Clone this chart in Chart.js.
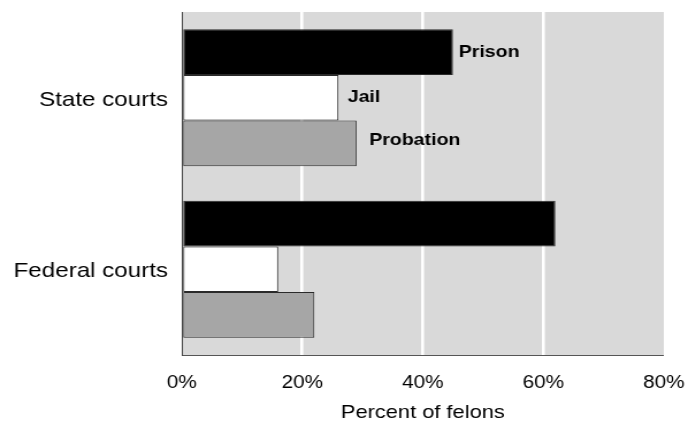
<!DOCTYPE html>
<html>
<head>
<meta charset="utf-8">
<script src="https://cdn.jsdelivr.net/npm/chart.js@4/dist/chart.umd.min.js"></script>
<style>
  html, body { margin: 0; padding: 0; background: #ffffff; }
  #wrap { width: 688px; height: 422px; overflow: hidden; }
  canvas { display: block; }
</style>
</head>
<body>
<div id="wrap">
  <canvas id="c" width="598" height="422" style="width:688px;height:422px"></canvas>
</div>
<script>
// ---- data ----
const categories = ['State courts', 'Federal courts'];
const seriesNames = ['Prison', 'Jail', 'Probation'];
const prison = [45, 62];
const jail = [26, 16];
const probation = [29, 22];
const xTicks = [0, 20, 40, 60, 80];
const xTitle = 'Percent of felons';

const FONT = "'Liberation Sans', Arial, Helvetica, sans-serif";
Chart.defaults.font.family = FONT;
Chart.defaults.color = '#000000';

const bgPlugin = {
  id: 'bg',
  beforeDraw(chart) {
    const { ctx, chartArea: a } = chart;
    ctx.save();
    ctx.fillStyle = '#d9d9d9';
    ctx.fillRect(a.left, a.top, a.right - a.left, a.bottom - a.top);
    ctx.strokeStyle = '#555555';
    ctx.lineWidth = 1;
    ctx.beginPath();
    ctx.moveTo(a.left, a.bottom + 0.5);
    ctx.lineTo(a.right, a.bottom + 0.5);
    ctx.stroke();
    ctx.restore();
  }
};

const labelPlugin = {
  id: 'barLabels',
  afterDatasetsDraw(chart) {
    const { ctx } = chart;
    const offs = [{ dx: 5, dy: 0 }, { dx: 8, dy: 0 }, { dx: 11, dy: -3 }];
    ctx.save();
    ctx.font = "bold 17px " + FONT;
    ctx.fillStyle = '#000000';
    ctx.textAlign = 'left';
    ctx.textBaseline = 'middle';
    chart.data.datasets.forEach((ds, i) => {
      const meta = chart.getDatasetMeta(i);
      const el = meta.data[0];
      if (!el) return;
      ctx.fillText(ds.label, el.x + offs[i].dx, el.y + offs[i].dy);
    });
    ctx.restore();
  }
};

const fills = ['#000000', '#ffffff', '#a6a6a6'];
const seriesData = [prison, jail, probation];

new Chart(document.getElementById('c'), {
  type: 'bar',
  data: {
    labels: categories,
    datasets: seriesNames.map((name, i) => ({
      label: name,
      data: seriesData[i],
      backgroundColor: fills[i],
      borderColor: '#2a2a2a',
      borderWidth: 1,
      borderSkipped: false,
      categoryPercentage: 0.8,
      barPercentage: 1.0
    }))
  },
  options: {
    indexAxis: 'y',
    responsive: false,
    animation: false,
    devicePixelRatio: 1,
    layout: { padding: { left: 0, right: 21, top: 12, bottom: 0 } },
    plugins: {
      legend: { display: false },
      tooltip: { enabled: false }
    },
    scales: {
      x: {
        type: 'linear',
        min: 0,
        max: 80,
        afterBuildTicks(scale) { scale.ticks = xTicks.map(v => ({ value: v })); },
        afterFit(scale) {
          scale.height = 67;
          scale.paddingLeft = 0; scale.paddingRight = 0;
        },
        ticks: {
          callback: v => v + '%',
          font: { size: 18 },
          color: '#000000',
          padding: 17
        },
        grid: {
          drawTicks: false,
          color: ctx => (ctx.tick && ctx.tick.value > 0 && ctx.tick.value < 80) ? '#ffffff' : 'rgba(0,0,0,0)',
          lineWidth: 2.6
        },
        border: { display: false },
        title: {
          display: true,
          text: xTitle,
          font: { size: 19 },
          color: '#000000',
          padding: { top: 0, bottom: -2 }
        }
      },
      y: {
        afterFit(scale) {
          scale.width = 158;
          scale.paddingTop = 0; scale.paddingBottom = 0;
        },
        ticks: {
          font: { size: 21 },
          color: '#000000',
          padding: 12,
          labelOffset: 2
        },
        grid: { display: false, drawTicks: false },
        border: { display: true, color: '#444444', width: 1 }
      }
    }
  },
  plugins: [bgPlugin, labelPlugin]
});
</script>
</body>
</html>
